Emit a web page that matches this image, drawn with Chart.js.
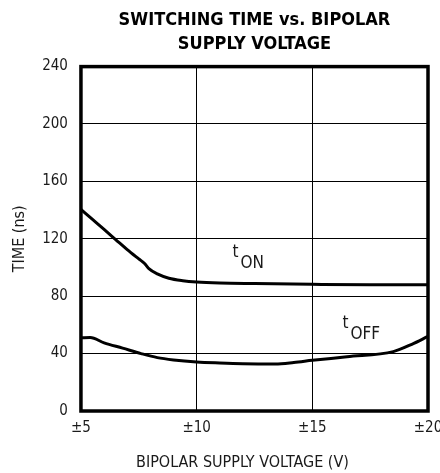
<!DOCTYPE html>
<html>
<head>
<meta charset="utf-8">
<script src="https://cdn.jsdelivr.net/npm/chart.js@4/dist/chart.umd.min.js"></script>
<style>
  html, body { margin: 0; padding: 0; background: #fff; }
  #wrap { width: 440px; height: 473px; position: relative; }
</style>
</head>
<body>
<div id="wrap"><canvas id="chart"></canvas></div>
<script>
// data
const tonVolts = [5, 5.5, 6, 6.5, 7, 7.5, 7.75, 7.95, 8.3, 8.8, 9.4, 10, 11, 12.5, 15, 17.5, 20];
const tonTimes = [140.5, 133.5, 126.5, 119.5, 112.5, 106, 102.8, 99, 95.5, 92.5, 90.8, 89.9, 89.2, 88.8, 88.3, 88, 88];

const toffVolts = [5, 5.4, 6, 6.8, 7.6, 8.3, 9, 10, 11, 12, 13.4, 14.2, 15, 16.5, 18.5, 19.3, 20];
const toffTimes = [51, 51.2, 47.5, 43.8, 40, 37.2, 35.6, 34.2, 33.5, 33, 32.8, 33.8, 35.3, 37.8, 41.4, 46.5, 52];

const xTicks = [5, 10, 15, 20];
const yTicks = [0, 40, 80, 120, 160, 200, 240];
const xTitle = 'BIPOLAR SUPPLY VOLTAGE (V)';

// curve labels: [main, subscript, volts, time]
const curveLabels = [
    ['t', 'ON', 11.55, 99.5],
    ['t', 'OFF', 16.3, 50.3]
];

const FONT = "'Liberation Sans Narrow', 'DejaVu Sans Condensed', Arial, sans-serif";
const INK = '#1a1a1a';

function toPoints(xs, ys) {
    return xs.map((x, i) => ({ x: x, y: ys[i] }));
}

// thick frame, curve labels and the x axis title (set a bit left of centre like the original)
const framePlugin = {
    id: 'frame',
    afterDraw(chart) {
        const ctx = chart.ctx;
        const a = chart.chartArea;
        const xs = chart.scales.x;
        const ys = chart.scales.y;
        ctx.save();
        ctx.strokeStyle = '#000';
        ctx.lineWidth = 3.5;
        ctx.strokeRect(a.left, a.top, a.right - a.left, a.bottom - a.top);

        ctx.fillStyle = INK;
        ctx.font = '17px ' + FONT;
        ctx.textBaseline = 'alphabetic';
        curveLabels.forEach(l => {
            const px = xs.getPixelForValue(l[2]);
            const py = ys.getPixelForValue(l[3]);
            ctx.fillText(l[0], px, py - 11);
            ctx.fillText(l[1], px + 8, py);
        });

        ctx.font = '16px ' + FONT;
        ctx.textAlign = 'center';
        ctx.textBaseline = 'middle';
        ctx.fillText(xTitle, (a.left + a.right) / 2 - 12, a.bottom + 52);
        ctx.restore();
    }
};

new Chart(document.getElementById('chart'), {
    type: 'line',
    data: {
        datasets: [
            {
                label: 'tON',
                data: toPoints(tonVolts, tonTimes),
                borderColor: '#000',
                borderWidth: 3,
                pointRadius: 0,
                cubicInterpolationMode: 'monotone',
                fill: false
            },
            {
                label: 'tOFF',
                data: toPoints(toffVolts, toffTimes),
                borderColor: '#000',
                borderWidth: 3,
                pointRadius: 0,
                cubicInterpolationMode: 'monotone',
                fill: false
            }
        ]
    },
    options: {
        responsive: true,
        maintainAspectRatio: false,
        animation: false,
        layout: { padding: { left: 6, right: 0, top: 0, bottom: 28 } },
        plugins: {
            legend: { display: false },
            tooltip: { enabled: false },
            title: {
                display: true,
                fullSize: false,
                text: ['SWITCHING TIME vs. BIPOLAR', 'SUPPLY VOLTAGE'],
                color: '#000',
                font: { family: FONT, size: 18, weight: 'bold', lineHeight: 1.35 },
                padding: { top: 8, bottom: 10 }
            }
        },
        scales: {
            x: {
                type: 'linear',
                min: 5,
                max: 20,
                afterBuildTicks: axis => { axis.ticks = xTicks.map(v => ({ value: v })); },
                afterFit: axis => { axis.paddingRight = 12; },
                ticks: {
                    color: INK,
                    font: { family: FONT, size: 15 },
                    padding: 8,
                    maxRotation: 0,
                    callback: v => '±' + v
                },
                grid: { color: '#000', lineWidth: 1, drawTicks: false },
                border: { display: false }
            },
            y: {
                min: 0,
                max: 240,
                afterBuildTicks: axis => { axis.ticks = yTicks.map(v => ({ value: v })); },
                ticks: {
                    color: INK,
                    font: { family: FONT, size: 15 },
                    padding: 13
                },
                grid: { color: '#000', lineWidth: 1, drawTicks: false },
                border: { display: false },
                title: {
                    display: true,
                    text: 'TIME (ns)',
                    color: INK,
                    font: { family: FONT, size: 16 },
                    padding: { top: 4, bottom: 0 }
                }
            }
        }
    },
    plugins: [framePlugin]
});
</script>
</body>
</html>
